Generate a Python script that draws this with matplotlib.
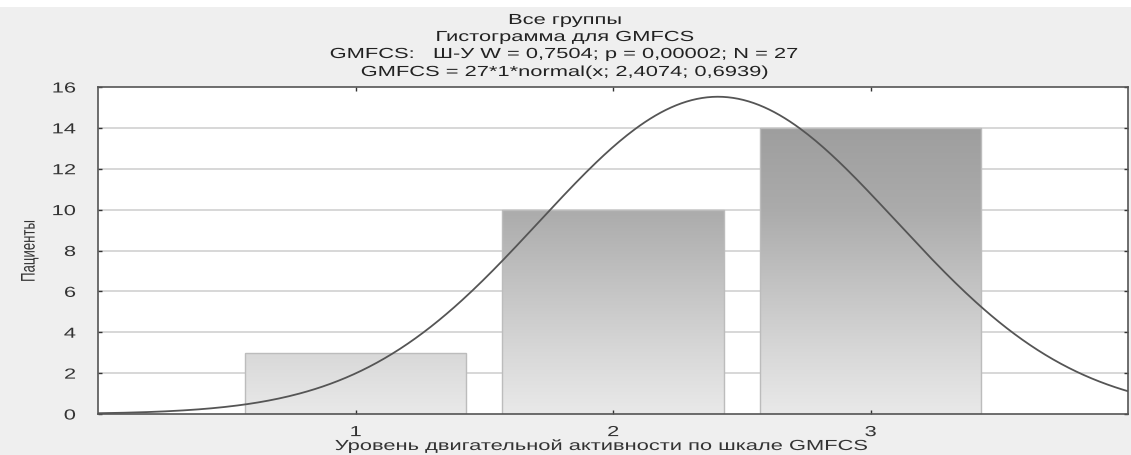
import numpy as np
import matplotlib
matplotlib.use("Agg")
import matplotlib.pyplot as plt
from matplotlib.patches import Rectangle
from matplotlib.colors import LinearSegmentedColormap
from matplotlib.patheffects import AbstractPathEffect
from matplotlib.transforms import Affine2D

plt.rcParams['font.family'] = ['Liberation Sans', 'DejaVu Sans']

# GMFCS level counts
levels = [1, 2, 3]
counts = [3, 10, 14]
n_total = 27
mu, sigma = 2.4074, 0.6939
bar_width = 0.86

title_lines = [
    "Все группы",
    "Гистограмма для GMFCS",
    "GMFCS:   Ш-У W = 0,7504; p = 0,00002; N = 27",
    "GMFCS = 27*1*normal(x; 2,4074; 0,6939)",
]
xlabel = "Уровень двигательной активности по шкале GMFCS"
ylabel = "Пациенты"
yticks = list(range(0, 17, 2))

W, H = 1131, 456


class Stretch(AbstractPathEffect):
    """Draw glyphs widened along one axis of the text, around an anchor."""

    def __init__(self, sx=1.0, sy=1.0, anchor="center"):
        super().__init__()
        self.sx, self.sy, self.anchor = sx, sy, anchor

    def draw_path(self, renderer, gc, tpath, affine, rgbFace=None):
        v = tpath.vertices
        if len(v) == 0:
            return
        xmin, xmax = v[:, 0].min(), v[:, 0].max()
        ymin, ymax = v[:, 1].min(), v[:, 1].max()
        if self.anchor == "center":
            cx = 0.5 * (xmin + xmax)
        elif self.anchor == "right":
            cx = xmax
        else:
            cx = xmin
        cy = 0.5 * (ymin + ymax)
        t = (Affine2D().translate(-cx, -cy).scale(self.sx, self.sy)
             .translate(cx, cy) + affine)
        renderer.draw_path(gc, tpath, t, rgbFace)


SX = 1.5
FS = 10.5
wide_c = [Stretch(sx=SX, anchor="center")]
wide_r = [Stretch(sx=SX, anchor="right")]

fig = plt.figure(figsize=(W / 100, H / 100), dpi=100, facecolor="#efefef")
# white strip along the top edge of the canvas
fig.add_artist(Rectangle((0, 1 - 8 / H), 1, 8 / H, transform=fig.transFigure,
                         facecolor="white", edgecolor="none", zorder=0))
ax = fig.add_axes([98 / W, 1 - 415 / H, 1030 / W, 327 / H])
ax.set_facecolor("white")
ax.set_xlim(0, 4)
ax.set_ylim(0, 16)

# horizontal grid
for yv in yticks[1:-1]:
    ax.axhline(yv, color="#d4d4d4", lw=1.3, zorder=0)

# bars with a vertical gradient shared across the whole value range
grad = np.linspace(0, 1, 256).reshape(-1, 1)
cmap = LinearSegmentedColormap.from_list(
    "bars", [(0.0, "#e9e9e9"), (3 / 14, "#d8d8d8"), (10 / 14, "#ababab"), (1.0, "#9e9e9e")])
for lv, c in zip(levels, counts):
    x0 = lv - bar_width / 2
    im = ax.imshow(grad, cmap=cmap, vmin=0, vmax=1, origin="lower", aspect="auto",
                   extent=[x0, x0 + bar_width, 0, 14], zorder=1, interpolation="bilinear")
    rect = Rectangle((x0, 0), bar_width, c, facecolor="none", edgecolor="#bcbcbc",
                     lw=1.0, zorder=2)
    ax.add_patch(rect)
    im.set_clip_path(rect)

# fitted normal curve
xs = np.linspace(0, 4, 400)
ys = n_total * 1 * np.exp(-0.5 * ((xs - mu) / sigma) ** 2) / (sigma * np.sqrt(2 * np.pi))
ax.plot(xs, ys, color="#555555", lw=1.3, zorder=3)

ax.set_xticks(levels)
ax.set_yticks(yticks)
ax.tick_params(axis="both", direction="in", length=3, width=1.0, color="#333333",
               labelsize=FS, labelcolor="#333333", top=True, right=True)
ax.tick_params(axis="x", pad=8)
ax.tick_params(axis="y", pad=16)
for lab in ax.get_xticklabels():
    lab.set_path_effects(wide_c)
for lab in ax.get_yticklabels():
    lab.set_path_effects(wide_r)
for s in ax.spines.values():
    s.set_color("#555555")
    s.set_linewidth(1.2)

fig.text(602 / W, 1 - 447 / H, xlabel, ha="center", va="center", fontsize=FS,
         color="#333333", path_effects=wide_c)
fig.text(30 / W, 1 - 252 / H, ylabel, ha="center", va="center", rotation=90,
         fontsize=9.5, color="#333333",
         family=["Liberation Sans Narrow", "Liberation Sans", "DejaVu Sans"],
         path_effects=[Stretch(sy=1.5, anchor="center")])

title_px = [21, 38, 55, 73]
for t, yy in zip(title_lines, title_px):
    fig.text(565 / W, 1 - yy / H, t, ha="center", va="center", fontsize=FS,
             color="#222222", path_effects=wide_c)

fig.savefig("out.png", dpi=100, facecolor=fig.get_facecolor())
